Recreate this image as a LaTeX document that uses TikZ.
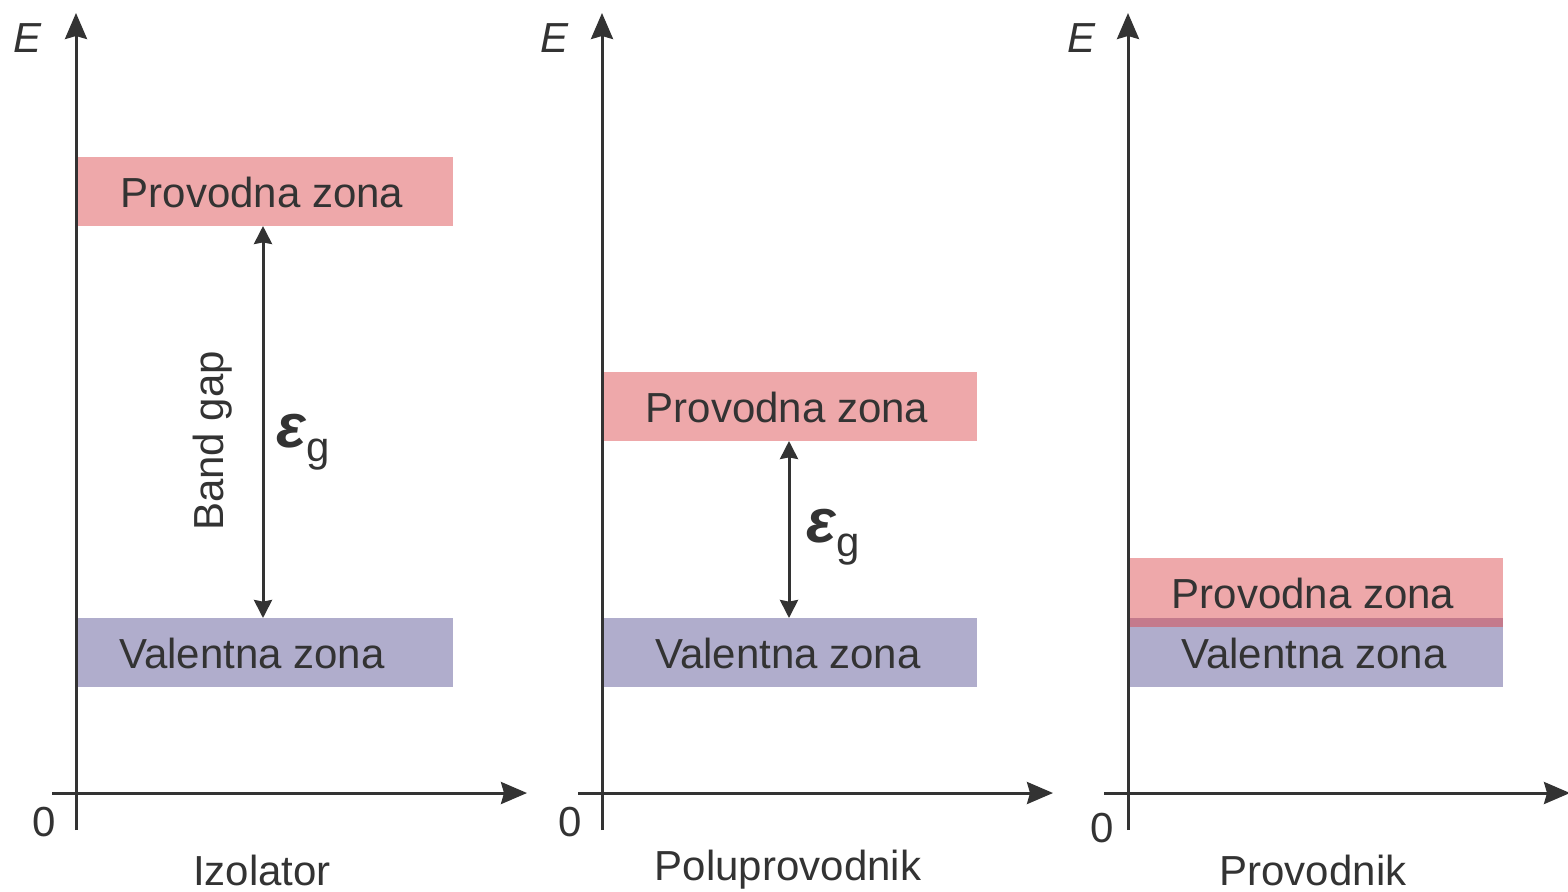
\documentclass[tikz,border=0pt]{standalone}
\usepackage{fontspec}
\setmainfont{Liberation Sans}
\usetikzlibrary{arrows.meta}
\definecolor{ink}{HTML}{333333}
\definecolor{cband}{HTML}{EEA8AA}
\definecolor{vband}{HTML}{B0ADCC}
\definecolor{oband}{HTML}{C47A8C}
\tikzset{
  axis/.style={draw=ink, line width=1.5pt, -{Stealth[length=13pt,width=11pt,inset=1.5pt]}},
  gaparrow/.style={draw=ink, line width=1.5pt, {Stealth[length=9pt,width=9pt,inset=0.8pt]}-{Stealth[length=9pt,width=9pt,inset=0.8pt]}},
  lbl/.style={text=ink, font=\fontsize{21}{25}\selectfont, inner sep=0pt},
  eps/.style={text=ink, inner sep=0pt, font=\fontsize{21}{25}\selectfont}
}
\newcommand{\epsg}{{\fontsize{31}{31}\selectfont\bfseries\itshape ε}\raisebox{-7pt}{g}}
\begin{document}
\begin{tikzpicture}[x=0.5pt,y=-0.5pt]
\useasboundingbox (0,0) rectangle (1568,891);
% ---------- Panel 1 ----------
\fill[cband] (77,157) rectangle (453,226);
\fill[vband] (77,618) rectangle (453,687);
\node[lbl] (c1) at (262,192) {Provodna zona};
\node[lbl] (v1) at (252,653) {Valentna zona};
\coordinate (c1b) at (263,226);
\coordinate (v1t) at (263,618);
\draw[gaparrow] (v1t) -- (c1b);
\node[lbl, rotate=90] (bg) at (213,441) {Band gap};
\node[eps] (e1) at (303,442) {\epsg};
\coordinate (y1s) at (76,830);
\coordinate (y1e) at (76,13);
\coordinate (x1s) at (52,793);
\coordinate (x1e) at (527,793);
\draw[axis] (y1s) -- (y1e);
\draw[axis] (x1s) -- (x1e);
\node[lbl] (z1) at (44,822) {0};
\node[lbl] (E1) at (28,38) {\itshape E};
\node[lbl] (n1) at (262,870) {Izolator};
% ---------- Panel 2 ----------
\fill[cband] (603,372) rectangle (977,441);
\fill[vband] (603,618) rectangle (977,687);
\node[lbl] (c2) at (787,407) {Provodna zona};
\node[lbl] (v2) at (788,653) {Valentna zona};
\coordinate (c2b) at (789,441);
\coordinate (v2t) at (789,618);
\draw[gaparrow] (v2t) -- (c2b);
\node[eps] (e2) at (833,537) {\epsg};
\coordinate (y2s) at (602,830);
\coordinate (y2e) at (602,13);
\coordinate (x2s) at (578,793);
\coordinate (x2e) at (1053,793);
\draw[axis] (y2s) -- (y2e);
\draw[axis] (x2s) -- (x2e);
\node[lbl] (z2) at (570,822) {0};
\node[lbl] (E2) at (555,38) {\itshape E};
\node[lbl] (n2) at (788,870) {Poluprovodnik};
% ---------- Panel 3 ----------
\fill[cband] (1129,558) rectangle (1503,627);
\fill[vband] (1129,618) rectangle (1503,687);
\fill[oband] (1129,618) rectangle (1503,627);
\node[lbl] (c3) at (1313,593) {Provodna zona};
\node[lbl] (v3) at (1314,653) {Valentna zona};
\coordinate (y3s) at (1128,830);
\coordinate (y3e) at (1128,13);
\coordinate (x3s) at (1104,793);
\coordinate (x3e) at (1570,793);
\draw[axis] (y3s) -- (y3e);
\draw[axis] (x3s) -- (x3e);
\node[lbl] (z3) at (1102,828) {0};
\node[lbl] (E3) at (1081,38) {\itshape E};
\node[lbl] (n3) at (1313,870) {Provodnik};
\end{tikzpicture}
\end{document}
